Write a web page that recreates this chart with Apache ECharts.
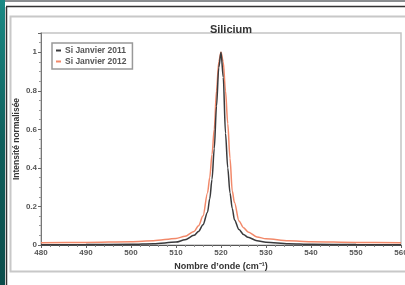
<!DOCTYPE html>
<html lang="fr">
<head>
<meta charset="UTF-8">
<title>Silicium</title>
<style>
  * { margin: 0; padding: 0; }
  html, body { width: 100%; height: 100%; background: #fff; }
  #chart { width: 405px; height: 285px; }
</style>
</head>
<body>
<div id="chart"></div>
<script src="https://cdn.jsdelivr.net/npm/echarts@6/dist/echarts.min.js"></script>
<script>
// nombre d'onde (cm-1)
var waveNumbers = [480, 490, 500, 505, 510, 512, 514, 515, 516, 517, 517.5, 518, 518.5, 519, 519.5, 520,
  520.5, 521, 521.5, 522, 522.5, 523, 524, 525, 526, 528, 530, 535, 540, 550, 560];
var si2011 = [0.001, 0.002, 0.004, 0.007, 0.015, 0.027, 0.05, 0.07, 0.105, 0.17, 0.24, 0.34, 0.50, 0.72, 0.92, 1.0,
  0.87, 0.58, 0.40, 0.27, 0.19, 0.13, 0.08, 0.055, 0.04, 0.022, 0.014, 0.007, 0.004, 0.002, 0.001];
var si2012 = [0.012, 0.013, 0.017, 0.022, 0.034, 0.045, 0.07, 0.10, 0.15, 0.27, 0.35, 0.47, 0.60, 0.80, 0.95, 1.0,
  0.95, 0.80, 0.63, 0.45, 0.28, 0.22, 0.125, 0.09, 0.068, 0.042, 0.032, 0.022, 0.017, 0.013, 0.012];
var seriesNames = ['Si Janvier 2011', 'Si Janvier 2012'];

function pairs(ys) {
  return waveNumbers.map(function (x, i) { return [x, ys[i]]; });
}

var font = '"Liberation Sans", Arial, sans-serif';
var chart = echarts.init(document.getElementById('chart'));

chart.setOption({
  animation: false,
  graphic: [
    // bande sarcelle à gauche
    { type: 'rect', left: 0, top: 0, shape: { width: 5, height: 285 },
      style: { fill: { type: 'linear', x: 0, y: 0, x2: 0, y2: 1,
        colorStops: [{ offset: 0, color: '#1b8a85' }, { offset: 0.5, color: '#0f5f5c' }, { offset: 1, color: '#0c4d4b' }] } } },
    { type: 'rect', left: 5, top: 0, shape: { width: 400, height: 2 }, style: { fill: '#8a8d90' } },
    // cadre noir
    { type: 'line', shape: { x1: 6.5, y1: 7, x2: 6.5, y2: 285 }, style: { stroke: '#333', lineWidth: 1.5 } },
    { type: 'line', shape: { x1: 6, y1: 6.5, x2: 405, y2: 6.5 }, style: { stroke: '#333', lineWidth: 1.5 } },
    // cadre gris clair
    { type: 'rect', shape: { x: 10.5, y: 16.5, width: 400, height: 255 },
      style: { fill: 'none', stroke: '#c8c8c8', lineWidth: 2 } }
  ],
  title: {
    text: 'Silicium',
    left: 226, top: 19, textAlign: 'center',
    textStyle: { fontFamily: font, fontSize: 11, fontWeight: 'bold', color: '#333' }
  },
  legend: {
    data: seriesNames,
    orient: 'vertical',
    left: 52, top: 43,
    itemWidth: 5, itemHeight: 2, itemGap: 2,
    icon: 'rect',
    padding: [3, 6, 3, 4],
    borderColor: '#999', borderWidth: 1.5,
    textStyle: { fontFamily: font, fontSize: 8.5, fontWeight: 'bold', color: '#555', padding: [0, 0, 0, -1] }
  },
  grid: {
    left: 41, right: 4, top: 33, bottom: 40,
    outerBoundsMode: 'none', containLabel: false,
    show: true, borderColor: '#c4c4c4', borderWidth: 1.5, backgroundColor: '#fff'
  },
  xAxis: {
    type: 'value', min: 480, max: 560, interval: 10,
    name: 'Nombre d\u2019onde (cm\u207b\u00b9)',
    nameLocation: 'middle', nameGap: 17, nameMoveOverlap: false,
    nameTextStyle: { fontFamily: font, fontSize: 9, fontWeight: 'bold', color: '#333' },
    axisLine: { lineStyle: { color: '#555', width: 1 } },
    axisTick: { inside: false, length: 3, lineStyle: { color: '#666' } },
    minorTick: { show: true, splitNumber: 5, length: 2, lineStyle: { color: '#888' } },
    axisLabel: { fontFamily: font, fontSize: 8, fontWeight: 'bold', color: '#555', margin: 4,
      showMaxLabel: true, hideOverlap: false },
    splitLine: { show: false }
  },
  yAxis: {
    type: 'value', min: 0, max: 1.1, interval: 0.2,
    name: 'Intensit\u00e9 normalis\u00e9e',
    nameLocation: 'middle', nameGap: 20, nameMoveOverlap: false,
    nameTextStyle: { fontFamily: font, fontSize: 8.5, fontWeight: 'bold', color: '#333' },
    axisLine: { show: true, lineStyle: { color: '#777', width: 1 } },
    axisTick: { show: true, length: 3, lineStyle: { color: '#666' } },
    minorTick: { show: true, splitNumber: 4, length: 2, lineStyle: { color: '#999' } },
    axisLabel: { fontFamily: font, fontSize: 8, fontWeight: 'bold', color: '#555', margin: 4,
      formatter: function (v) { return v > 1.05 ? '' : String(+v.toFixed(1)); } },
    splitLine: { show: false }
  },
  series: [
    { name: seriesNames[0], type: 'line', data: pairs(si2011), showSymbol: false,
      smooth: 0.3, smoothMonotone: 'x', z: 3,
      itemStyle: { color: '#3a3a3c' }, lineStyle: { color: '#3a3a3c', width: 1.5 } },
    { name: seriesNames[1], type: 'line', data: pairs(si2012), showSymbol: false,
      smooth: 0.3, smoothMonotone: 'x', z: 2,
      itemStyle: { color: '#f2896a' }, lineStyle: { color: '#f2896a', width: 1.5 } }
  ]
});
</script>
</body>
</html>
